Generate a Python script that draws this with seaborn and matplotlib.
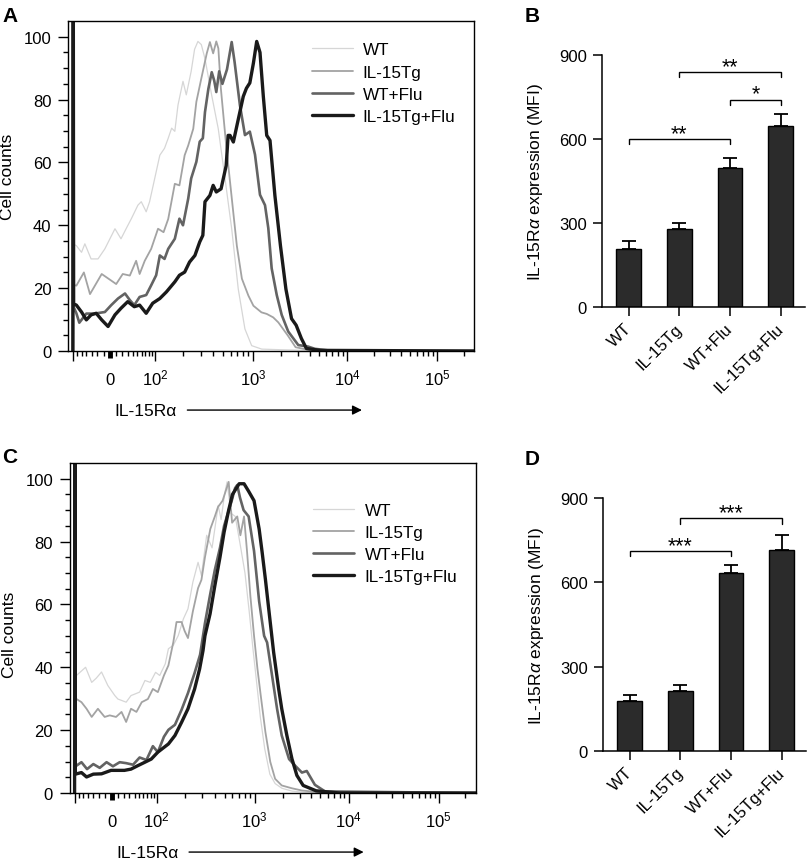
import numpy as np
import pandas as pd
import matplotlib
matplotlib.use("Agg")
import matplotlib.pyplot as plt
import seaborn as sns
from matplotlib.ticker import FixedLocator

# ---------------- data ----------------
GROUPS = ["WT", "IL-15Tg", "WT+Flu", "IL-15Tg+Flu"]

# Panel A histograms (IL-15Ra fluorescence vs cell counts, % of max)
A_WT_X = [-71, -70, -69, -62, -50, -43, -31, -19, -8, 8, 18, 27, 37, 51, 59, 72, 82, 99, 113, 127, 139, 151, 163, 176, 198, 214, 240, 260, 281, 304, 331, 387, 450, 526, 613, 713, 831, 970, 1240, 2000, 4000, 10000, 262144]
A_WT_Y = [0, 130, 34, 33.5, 31.4, 34.1, 29.3, 29.3, 32.5, 38.9, 35.7, 38.9, 42.1, 46.4, 47.5, 44.3, 47.5, 54.9, 62.3, 64.5, 67.7, 70.9, 69.9, 78.3, 85.8, 81.5, 89, 96, 98.5, 97.5, 93, 81.3, 70.7, 54.8, 38.9, 19.7, 7, 1.7, 0.6, 0.4, 0.2, 0, 0]
A_TG_X = [-71, -70, -69, -62, -45, -33, -13, 2, 10, 21, 34, 47, 55, 68, 87, 108, 124, 139, 163, 182, 206, 224, 252, 271, 304, 345, 371, 400, 430, 451, 478, 540, 610, 690, 775, 900, 1010, 1230, 1400, 1640, 1860, 2350, 2840, 4000, 8000, 262144]
A_TG_Y = [0, 130, 21, 20.8, 25, 18.1, 24.5, 22.4, 21.3, 24.5, 24, 28.7, 24.5, 28.7, 32.5, 38.9, 37.8, 42, 53.2, 52.7, 62.3, 65.4, 70.7, 79.3, 86.7, 94.7, 98.3, 94.7, 98.5, 96.3, 83.5, 65.4, 49.5, 33.5, 23, 17.6, 14.4, 12.3, 11.8, 10.7, 9.1, 4.9, 1.2, 0.3, 0, 0]
A_WF_X = [-71, -70, -69, -62, -55, -40, -25, -8, 2, 13, 25, 34, 43, 55, 72, 87, 103, 113, 127, 139, 163, 182, 198, 224, 240, 271, 293, 315, 331, 358, 387, 410, 430, 460, 495, 550, 613, 655, 740, 831, 930, 1050, 1187, 1342, 1455, 1580, 1790, 2020, 2370, 3030, 3860, 4540, 6290, 12000, 262144]
A_WF_Y = [0, 130, 14, 12, 9, 11.9, 11.9, 12.4, 14.6, 16.7, 18.3, 16.2, 14.6, 17.2, 17.8, 20.9, 24.1, 30.4, 29.3, 32.5, 35.7, 42.1, 40, 48.5, 54.9, 60.2, 66.6, 67.7, 76, 83.4, 88.7, 86, 82.4, 89, 85, 89.6, 98.3, 92, 78.3, 68.7, 69.8, 62.5, 49.7, 46.4, 39.1, 26.3, 17.8, 11.5, 6.2, 1.9, 1.4, 0.7, 0.2, 0, 0]
A_TF_X = [-71, -70, -69, -62, -50, -40, -31, -22, -13, -3, 8, 18, 30, 43, 55, 72, 92, 113, 133, 163, 182, 206, 231, 262, 293, 315, 331, 371, 400, 430, 480, 540, 565, 590, 637, 713, 800, 860, 930, 1010, 1095, 1187, 1288, 1400, 1517, 1710, 1960, 2240, 2570, 2880, 3270, 3700, 5160, 262144]
A_TF_Y = [0, 130, 15, 14.6, 12.4, 9.9, 11.5, 12, 9.9, 7.8, 11.5, 13.6, 15.7, 14.1, 14.6, 12, 15.2, 16.7, 18.8, 22, 24.1, 25.1, 28.3, 30.4, 34.7, 36.8, 47.5, 49.5, 52.7, 50.6, 51.6, 59, 68.6, 68.6, 66.5, 73.7, 81, 83.6, 85.3, 91.6, 98.5, 95, 81, 68.6, 67, 49.5, 33.5, 19.7, 10.3, 8.2, 4, 0.8, 0.2, 0]

# Panel C histograms
C_WT_X = [-71, -70, -69, -66, -45, -33, -25, -16, -6, 5, 10, 24, 33, 51, 64, 79, 96, 108, 124, 134, 151, 170, 192, 214, 240, 271, 293, 331, 375, 432, 462, 500, 530, 580, 640, 720, 800, 880, 960, 1050, 1150, 1280, 1450, 1650, 1950, 2500, 3500, 262144]
C_WT_Y = [0, 130, 38, 37.4, 40, 35.2, 36.5, 38.5, 34.2, 31, 29.9, 28.9, 31, 32.1, 35.8, 35.2, 38.4, 37.4, 41.1, 45.9, 47, 50.1, 55.4, 58.6, 67.1, 73.4, 69.2, 82, 78, 91.5, 87, 95, 99, 89, 88, 78.7, 70, 58, 46, 35, 24, 14, 6, 3, 1.5, 0.6, 0.2, 0]
C_TG_X = [-71, -70, -69, -66, -54, -43, -33, -22, -11, -3, 7, 16, 24, 33, 44, 56, 72, 87, 103, 120, 134, 151, 163, 184, 198, 214, 240, 271, 293, 318, 360, 400, 430, 478, 550, 595, 670, 720, 783, 840, 905, 985, 1070, 1160, 1300, 1465, 1650, 1940, 2490, 3180, 5000, 262144]
C_TG_Y = [0, 130, 30, 29.9, 28.9, 26.8, 24.2, 26.8, 24.2, 24.7, 24.2, 25.8, 22.6, 26.8, 25.8, 28.9, 29.9, 33.1, 32.1, 37.4, 40.6, 48, 54.4, 54.4, 51.5, 49.3, 57.8, 65.2, 67.8, 75, 84, 88, 91, 93, 99, 86, 88, 82, 88, 76.6, 62.8, 50, 39.5, 31, 19.4, 9.9, 4.5, 2.4, 1.5, 0.8, 0.2, 0]
C_WF_X = [-71, -70, -69, -66, -54, -42, -30, -19, -8, 2, 13, 24, 37, 51, 68, 87, 103, 120, 134, 157, 184, 214, 250, 284, 318, 358, 400, 450, 495, 540, 590, 637, 670, 713, 775, 870, 985, 1115, 1260, 1355, 1530, 1730, 1940, 2320, 2690, 3180, 3580, 4370, 5600, 262144]
C_WF_Y = [0, 130, 9, 8.7, 9.8, 7.6, 9.2, 8, 9.8, 8.5, 9.8, 9.5, 9, 11.3, 10.5, 14.9, 13, 17.9, 20.1, 21.7, 26.5, 31.8, 38.2, 44, 54, 63, 71, 78, 85, 89, 93, 97, 98, 94, 90, 88, 77, 61, 50, 47.9, 37.4, 26.8, 18.3, 10.8, 8.7, 6.5, 7, 2.6, 0.5, 0]
C_TF_X = [-71, -70, -69, -66, -54, -43, -30, -16, -1, 10, 21, 33, 47, 64, 82, 103, 120, 134, 157, 184, 214, 250, 281, 304, 318, 358, 400, 450, 495, 550, 600, 700, 783, 870, 985, 1115, 1200, 1300, 1410, 1590, 1800, 1940, 2200, 2490, 2810, 3280, 4500, 8000, 262144]
C_TF_Y = [0, 130, 6.5, 6.1, 6.5, 5.1, 6, 6.1, 7.2, 7.2, 7.2, 7.6, 8.7, 9.8, 10.8, 13, 14.5, 15.6, 18.3, 22.5, 26.8, 33.1, 39.5, 45.3, 50, 57, 66, 75, 83, 90, 95, 98.4, 98.4, 96, 93, 84, 76.6, 68, 58.6, 44.8, 33.1, 26.8, 18.3, 10.9, 5.6, 2.4, 0.7, 0, 0]

# Bar panels (MFI mean and SEM)
B_MEAN = [207, 279, 496, 646]
B_SEM = [28, 22, 35, 41]
D_MEAN = [178, 212, 632, 716]
D_SEM = [20, 23, 30, 54]

# significance brackets: (group i, group j, bracket height, label)
B_SIG = [(0, 2, 598, "**"), (1, 3, 837, "**"), (2, 3, 739, "*")]
D_SIG = [(0, 2, 711, "***"), (1, 3, 828, "***")]

HIST_TICKS = [-70, 0, 100, 1000, 10000, 100000]
HIST_TICK_LABELS = ["", "0", r"$10^2$", r"$10^3$", r"$10^4$", r"$10^5$"]
HIST_MINOR = ([-60, -50, -40, -30, -20, -10] + list(range(10, 100, 10)) + list(range(200, 1000, 100))
              + list(range(2000, 10000, 1000)) + list(range(20000, 100000, 10000)) + [200000])

# ---------------- style ----------------
sns.set_theme(style="ticks")
plt.rcParams["font.family"] = ["Liberation Sans", "DejaVu Sans"]
plt.rcParams["mathtext.fontset"] = "custom"
plt.rcParams["mathtext.rm"] = "Liberation Sans"
plt.rcParams["mathtext.it"] = "Liberation Sans:italic"
plt.rcParams["mathtext.bf"] = "Liberation Sans:bold"
plt.rcParams["axes.linewidth"] = 1.0
plt.rcParams["text.color"] = "black"
plt.rcParams["axes.labelcolor"] = "black"
plt.rcParams["xtick.color"] = "black"
plt.rcParams["ytick.color"] = "black"
plt.rcParams["axes.edgecolor"] = "black"

LINE_STYLES = [("#d6d6d6", 0.9), ("#a3a3a3", 1.3), ("#636363", 1.9), ("#1a1a1a", 2.4)]

# biexponential-like display scale (anchored to the cytometry axis)
_SV = np.array([-85, 0, 100, 1000, 1e4, 1e5, 262144.0])
_SP = np.array([0, 42, 87, 185, 279, 369, 406.0])
_SG = np.arcsinh(_SV / 50.0)


def _interp(v, xp, fp):
    v = np.asarray(v, dtype=float)
    out = np.interp(v, xp, fp)
    lo = v < xp[0]
    hi = v > xp[-1]
    out = np.where(lo, fp[0] + (v - xp[0]) * (fp[1] - fp[0]) / (xp[1] - xp[0]), out)
    out = np.where(hi, fp[-1] + (v - xp[-1]) * (fp[-1] - fp[-2]) / (xp[-1] - xp[-2]), out)
    return out


def fwd(x):
    return _interp(np.arcsinh(np.asarray(x, dtype=float) / 50.0), _SG, _SP)


def inv(p):
    with np.errstate(over="ignore", invalid="ignore"):
        return 50.0 * np.sinh(np.clip(_interp(p, _SP, _SG), -50, 50))


W, H = 807, 862
fig = plt.figure(figsize=(W / 100, H / 100), dpi=100)


def fig_axes(left, top, right, bottom):
    return fig.add_axes([left / W, 1 - bottom / H, (right - left) / W, (bottom - top) / H])


def hist_panel(ax, curves, leg_top, ylab_y):
    for name, (xs, ys), (col, lw) in zip(GROUPS, curves, LINE_STYLES):
        sns.lineplot(x=xs, y=ys, ax=ax, color=col, lw=lw, label=name, sort=False,
                     estimator=None, solid_joinstyle="round")
    ax.set_xscale("function", functions=(fwd, inv))
    ax.set_xlim(-85, 262144)
    ax.set_ylim(0, 105)
    ax.xaxis.set_major_locator(FixedLocator(HIST_TICKS))
    ax.set_xticklabels(HIST_TICK_LABELS)
    ax.xaxis.set_minor_locator(FixedLocator(HIST_MINOR))
    ax.set_yticks([0, 20, 40, 60, 80, 100])
    ax.yaxis.set_minor_locator(FixedLocator([v for v in range(5, 105, 5) if v % 20]))
    ax.tick_params(axis="x", which="major", length=7, width=1, labelsize=12, pad=17)
    ax.tick_params(axis="x", which="minor", length=3.6, width=1)
    ax.tick_params(axis="y", which="major", length=7, width=1, labelsize=12, pad=5)
    ax.tick_params(axis="y", which="minor", length=3.6, width=1)
    for lab in ax.get_xticklabels():
        lab.set_verticalalignment("baseline")
    ax.xaxis.get_major_ticks()[1].tick1line.set_markeredgewidth(3.5)
    ax.xaxis.get_major_ticks()[1].tick1line.set_markersize(5)
    ax.set_xlabel("")
    ax.set_ylabel("Cell counts", fontsize=12.5)
    ax.yaxis.set_label_coords(-0.131, ylab_y)
    for s in ax.spines.values():
        s.set_visible(True)
        s.set_linewidth(1.0)
    ax.legend(loc="upper left", bbox_to_anchor=(0.600, leg_top), frameon=False, fontsize=12.3,
              handlelength=2.4, handletextpad=0.6, labelspacing=0.42, borderpad=0,
              borderaxespad=0)
    ax.text(0.114, -0.179, "IL-15R\u03b1", transform=ax.transAxes, fontsize=12.5,
            ha="left", va="center")
    ax.annotate("", xy=(0.724, -0.179), xytext=(0.294, -0.179), xycoords="axes fraction",
                textcoords="axes fraction", annotation_clip=False,
                arrowprops=dict(arrowstyle="-|>", color="black", lw=1.0,
                                mutation_scale=14, shrinkA=0, shrinkB=0))


def bar_panel(ax, means, sems, sigs):
    df = pd.DataFrame({"group": GROUPS, "mfi": means})
    sns.barplot(data=df, x="group", y="mfi", order=GROUPS, color="#2b2b2b", saturation=1,
                edgecolor="black", linewidth=1.0, width=0.49, errorbar=None, ax=ax)
    ax.errorbar(np.arange(len(GROUPS)), means, yerr=[np.zeros(len(means)), sems], fmt="none",
                ecolor="black", elinewidth=1.3, capsize=4.7, capthick=1.3, zorder=3)
    ax.set_xlim(-0.527, 3.48)
    ax.set_ylim(0, 900)
    ax.set_yticks([0, 300, 600, 900])
    sns.despine(ax=ax)
    ax.spines["left"].set_linewidth(1.1)
    ax.spines["bottom"].set_linewidth(1.1)
    ax.tick_params(axis="y", length=6.5, width=1.1, labelsize=12, pad=4.5)
    ax.tick_params(axis="x", length=6.5, width=1.1, labelsize=12, pad=7)
    for lab in ax.get_xticklabels():
        lab.set_rotation(45)
        lab.set_horizontalalignment("right")
        lab.set_verticalalignment("center")
        lab.set_rotation_mode("anchor")
    ax.set_xlabel("")
    ax.set_ylabel(r"IL-15R$\alpha$ expression (MFI)", fontsize=12.5)
    ax.yaxis.set_label_coords(-0.283, 0.5)
    for i, j, yb, lab in sigs:
        ax.plot([i, i, j, j], [yb - 18, yb, yb, yb - 18], color="black", lw=1.0,
                clip_on=False, solid_joinstyle="miter")
        ax.text((i + j) / 2, yb + 2, lab, ha="center", va="baseline", fontsize=15.5)


axA = fig_axes(68, 22, 474, 352)
hist_panel(axA, [(A_WT_X, A_WT_Y), (A_TG_X, A_TG_Y), (A_WF_X, A_WF_Y), (A_TF_X, A_TF_Y)],
           0.935, 0.53)
axC = fig_axes(69.7, 464, 475.7, 794)
hist_panel(axC, [(C_WT_X, C_WT_Y), (C_TG_X, C_TG_Y), (C_WF_X, C_WF_Y), (C_TF_X, C_TF_Y)],
           0.88, 0.482)
axB = fig_axes(602, 55.7, 805, 308)
bar_panel(axB, B_MEAN, B_SEM, B_SIG)
axD = fig_axes(603, 499.3, 806, 751.7)
bar_panel(axD, D_MEAN, D_SEM, D_SIG)

for lab, x, y in [("A", 2, 22), ("B", 525, 22), ("C", 2, 463), ("D", 525, 465)]:
    fig.text(x / W, 1 - y / H, lab, fontsize=15, fontweight="bold", ha="left", va="baseline")

fig.savefig("out.png", dpi=100)
